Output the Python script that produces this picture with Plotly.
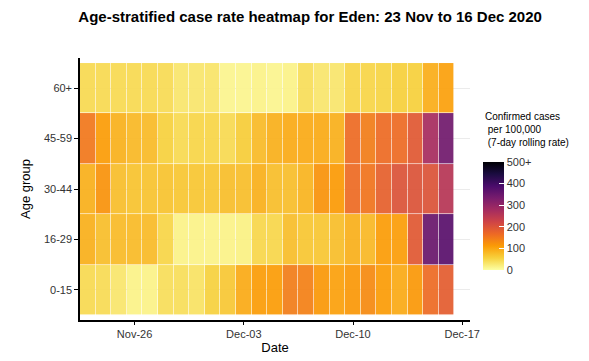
import plotly.graph_objects as go
import pandas as pd

dates = pd.date_range("2020-11-23", "2020-12-16", freq="D").strftime("%Y-%m-%d").tolist()
age_groups = ["0-15", "16-29", "30-44", "45-59", "60+"]

rate_0_15 = [45, 43, 30, 15, 15, 40, 40, 35, 55, 65, 95, 110, 110, 145, 140, 115, 105, 115, 130, 110, 95, 115, 165, 185]
rate_16_29 = [90, 75, 78, 78, 78, 50, 15, 15, 15, 15, 17, 48, 48, 75, 67, 67, 75, 90, 80, 110, 108, 190, 350, 370]
rate_30_44 = [90, 120, 75, 70, 70, 70, 67, 67, 67, 75, 75, 90, 75, 75, 85, 120, 112, 165, 155, 180, 200, 200, 200, 255]
rate_45_59 = [150, 110, 88, 80, 78, 55, 45, 50, 50, 45, 60, 78, 90, 95, 95, 95, 90, 165, 145, 165, 165, 190, 275, 340]
rate_60p = [45, 45, 45, 45, 45, 43, 30, 30, 32, 12, 12, 15, 12, 15, 40, 30, 30, 50, 50, 52, 57, 57, 92, 105]

z = [rate_0_15, rate_16_29, rate_30_44, rate_45_59, rate_60p]

x_tick_vals = ["2020-11-26", "2020-12-03", "2020-12-10", "2020-12-17"]
x_tick_text = ["Nov-26", "Dec-03", "Dec-10", "Dec-17"]
cb_tick_vals = [0, 100, 200, 300, 400, 500]
cb_tick_text = ["0", "100", "200", "300", "400", "500+"]

FONT = "Liberation Sans, Arial, sans-serif"

fig = go.Figure(
    go.Heatmap(
        x=dates,
        y=age_groups,
        z=z,
        zmin=0,
        zmax=500,
        colorscale="Inferno",
        reversescale=True,
        xgap=0.6,
        ygap=0.6,
        opacity=0.93,
        colorbar=dict(
            x=1.033,
            xanchor="left",
            xpad=0,
            y=0.397,
            yanchor="middle",
            len=108,
            lenmode="pixels",
            thickness=21,
            outlinewidth=0,
            tickvals=cb_tick_vals,
            ticktext=cb_tick_text,
            ticks="inside",
            ticklen=5,
            tickcolor="white",
            tickfont=dict(family=FONT, size=11, color="#333333"),
            ypad=0,
        ),
    )
)

fig.update_layout(
    width=581,
    height=353,
    margin=dict(l=72, r=119, t=50, b=41, autoexpand=False),
    paper_bgcolor="white",
    plot_bgcolor="white",
    font=dict(family=FONT, size=11, color="black"),
    title=dict(
        text="<b>Age-stratified case rate heatmap for Eden: 23 Nov to 16 Dec 2020</b>",
        x=0.52,
        xanchor="center",
        xref="container",
        y=1,
        yref="container",
        yanchor="top",
        pad=dict(t=3),
        font=dict(family=FONT, size=15, color="black"),
    ),
    annotations=[
        dict(
            text="Confirmed cases<br> per 100,000<br> (7-day rolling rate)",
            xref="paper",
            yref="paper",
            x=1.033,
            xanchor="left",
            y=0.805,
            yanchor="top",
            showarrow=False,
            align="left",
            font=dict(family=FONT, size=10, color="black"),
        )
    ],
)

fig.update_xaxes(
    type="date",
    range=["2020-11-22 12:00", "2020-12-17 12:00"],
    tickvals=x_tick_vals,
    ticktext=x_tick_text,
    ticks="outside",
    ticklen=3,
    tickcolor="black",
    tickfont=dict(family=FONT, size=11, color="#333333"),
    showline=True,
    linecolor="black",
    linewidth=1.5,
    showgrid=False,
    zeroline=False,
    automargin=False,
    title=dict(text="Date", font=dict(family=FONT, size=13, color="black"), standoff=4),
)

fig.update_yaxes(
    type="category",
    range=[-0.6, 4.6],
    ticks="outside",
    ticklen=4,
    tickcolor="black",
    tickfont=dict(family=FONT, size=11, color="#333333"),
    showline=True,
    linecolor="black",
    linewidth=1.5,
    showgrid=True,
    gridcolor="#ebebeb",
    zeroline=False,
    automargin=False,
    title=dict(text="Age group", font=dict(family=FONT, size=13, color="black"), standoff=10),
)

fig.write_html("out.html")
